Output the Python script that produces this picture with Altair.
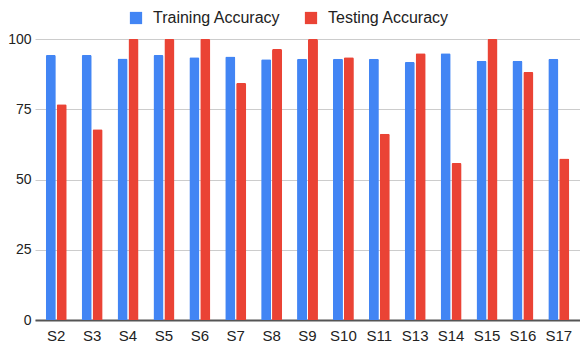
import altair as alt
import pandas as pd

categories = ["S2", "S3", "S4", "S5", "S6", "S7", "S8", "S9", "S10", "S11",
              "S13", "S14", "S15", "S16", "S17"]
training = [94.3, 94.3, 93.1, 94.3, 93.5, 93.8, 92.8, 93.0, 93.0, 93.0,
            91.8, 94.9, 92.3, 92.3, 93.0]
testing = [76.8, 67.9, 100, 100, 100, 84.3, 96.4, 100, 93.5, 66.3,
           94.9, 55.9, 100, 88.3, 57.5]
series = ["Training Accuracy", "Testing Accuracy"]
colors = ["#4285F4", "#EA4335"]

rows = []
for c, tr, te in zip(categories, training, testing):
    rows.append({"cat": c, "series": series[0], "value": tr})
    rows.append({"cat": c, "series": series[1], "value": te})
df = pd.DataFrame(rows)

FONT = "Liberation Sans"

chart = alt.Chart(df).mark_bar(cornerRadiusTopLeft=1.5, cornerRadiusTopRight=1.5).encode(
    x=alt.X("cat:N", sort=categories, title=None,
            scale=alt.Scale(paddingInner=0.417, paddingOuter=0.3),
            axis=alt.Axis(labelAngle=0, labelFontSize=15, labelColor="#222222",
                          labelFont=FONT, labelPadding=8, ticks=False,
                          domainColor="#555555", domainWidth=2, grid=False)),
    xOffset=alt.XOffset("series:N", sort=series,
                        scale=alt.Scale(paddingInner=0.08, paddingOuter=0)),
    y=alt.Y("value:Q", title=None,
            scale=alt.Scale(domain=[0, 100], nice=False),
            axis=alt.Axis(values=[0, 25, 50, 75, 100], labelFontSize=14,
                          labelColor="#222222", labelFont=FONT, labelPadding=4,
                          ticks=False, domain=False, gridColor="#cccccc",
                          gridWidth=1)),
    color=alt.Color("series:N", sort=series,
                    scale=alt.Scale(domain=series, range=colors),
                    legend=alt.Legend(orient="none", legendX=93, legendY=-29,
                                      direction="horizontal", title=None,
                                      symbolType="square", symbolSize=150,
                                      symbolStrokeWidth=0, labelFontSize=16,
                                      labelFont=FONT, labelColor="#222222",
                                      labelOffset=9, columnPadding=22)),
).properties(
    width=545, height=281,
    padding={"left": 27, "top": 31, "right": 0, "bottom": 24},
    autosize=alt.AutoSizeParams(type="none"),
).configure_view(stroke=None)

chart.save("out.html", embed_options={"renderer": "svg", "actions": False})
